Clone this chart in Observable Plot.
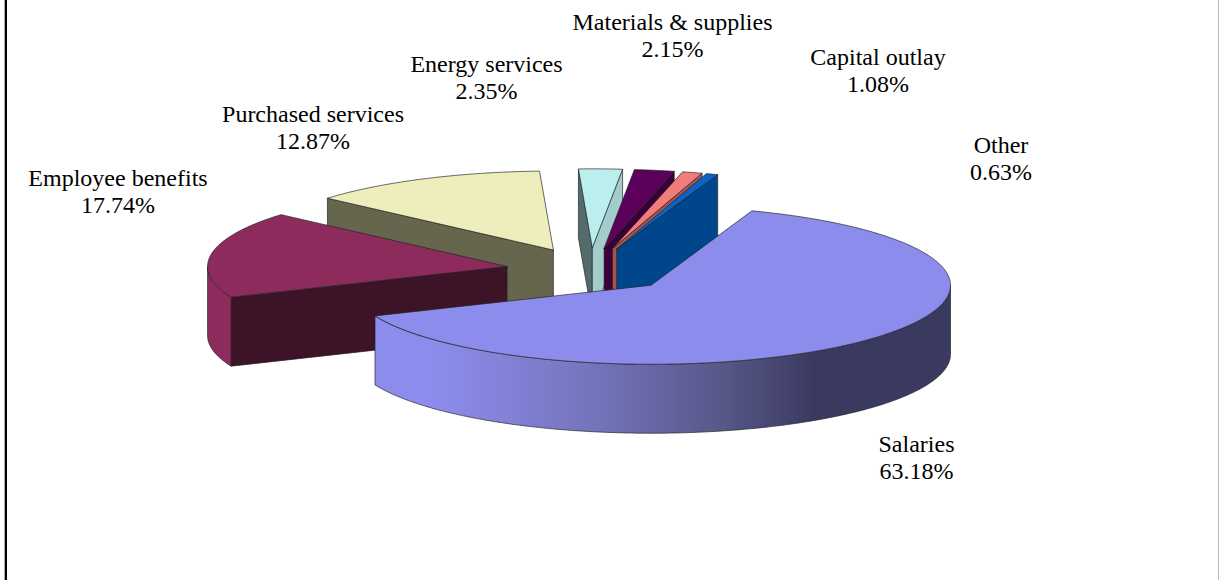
<!DOCTYPE html>
<html>
<head>
<meta charset="utf-8">
<script src="https://cdn.jsdelivr.net/npm/d3@7"></script>
<script src="https://cdn.jsdelivr.net/npm/@observablehq/plot@0.6"></script>
<style>
  html, body { margin: 0; padding: 0; background: #fff; }
  svg { display: block; }
</style>
</head>
<body>
<div id="chart"></div>
<script>
// Budget shares by expense category, in percent.
const categories = ["Salaries", "Employee benefits", "Purchased services", "Energy services",
                    "Materials & supplies", "Capital outlay", "Other"];
const shares = [63.18, 17.74, 12.87, 2.35, 2.15, 1.08, 0.63];

// Face colours per category.
const topColors  = ["#8C8CEC", "#8C2B5C", "#EEEEBD", "#BBEEEE", "#5C005C", "#F27B7B", "#0A64C8"];
const startWalls = ["#8C8CEC", "#3D1427", "#66664F", "#546B6B", "#3A003A", "#A8524F", "#00468C"];
const endWalls   = ["#8C8CEC", "#3D1427", "#66664F", "#A3CCCC", "#3A003A", "#A8524F", "#00468C"];
const rimColors  = ["url(#salaries-rim)", "#8C2B5C", "#EEEEBD", "#BBEEEE", "#5C005C", "#F27B7B", "#0A64C8"];

// Shading along the outer wall of the largest slice.
const rimOffsets = [0, 0.11, 0.38, 0.60, 0.764, 1];
const rimStops   = ["#8C8CEC", "#8C8CEC", "#7474BC", "#58588A", "#3A3A60", "#3A3A60"];

// Back-to-front painting order (indices into categories).
const drawOrder = [2, 3, 4, 5, 6, 1, 0];

// Label centres on the page, in category order.
const labelX = [916, 117.5, 312.5, 486, 672, 877.5, 1000.5];
const labelY = [456, 190.5, 126.5, 76.5, 34, 69.5, 157.5];

// Pie projection: centre, radii, wall height, slice separation, first slice edge.
const width = 1219, height = 580;
const pie = {cx: 589.5, cy: 269.5, rx: 299.5, ry: 79, depth: 69, explode: 84, startDeg: 70.3};

const rad = d => d * Math.PI / 180;
const total = d3.sum(shares);
const cumulative = d3.cumsum(shares);
const slices = shares.map((v, i) => {
  const t0 = pie.startDeg - (i ? cumulative[i - 1] : 0) / total * 360;
  const t1 = pie.startDeg - cumulative[i] / total * 360;
  const mid = rad((t0 + t1) / 2);
  return {
    i, t0, t1,
    ax: pie.cx + pie.explode * Math.cos(mid),
    ay: pie.cy - pie.explode * (pie.ry / pie.rx) * Math.sin(mid)
  };
});

const rimPoint = (s, deg, dz = 0) => ({
  x: s.ax + pie.rx * Math.cos(rad(deg)),
  y: s.ay - pie.ry * Math.sin(rad(deg)) + dz
});
const apex = (s, dz = 0) => ({x: s.ax, y: s.ay + dz});
const arc = (s, from, to, dz = 0) => {
  const n = Math.max(2, Math.ceil(Math.abs(to - from) * 2));
  return d3.range(n + 1).map(k => rimPoint(s, from + (to - from) * k / n, dz));
};
const closed = pts => [...pts, pts[0]];

// Front-facing stretches of the outer wall: the parts of the arc below the centre line.
const frontArcs = s => {
  const lo = s.t1, hi = s.t0, spans = [];
  for (const [a, b] of [[-180, 0], [180, 360], [-540, -360]]) {
    const from = Math.min(hi, b), to = Math.max(lo, a);
    if (from > to) spans.push([from, to]);
  }
  return spans;
};

const face = (pts, fill) => Plot.line(closed(pts), {
  x: "x", y: "y", fill, stroke: "#222", strokeWidth: 0.8, strokeOpacity: 0.85,
  strokeLinejoin: "round", curve: "linear"
});

const sliceMarks = s => {
  const marks = [];
  // Radial walls show only when they turn towards the viewer.
  if (Math.cos(rad(s.t0)) < 0) {
    marks.push(face([apex(s), rimPoint(s, s.t0), rimPoint(s, s.t0, pie.depth), apex(s, pie.depth)], startWalls[s.i]));
  }
  if (Math.cos(rad(s.t1)) > 0) {
    marks.push(face([apex(s), rimPoint(s, s.t1), rimPoint(s, s.t1, pie.depth), apex(s, pie.depth)], endWalls[s.i]));
  }
  for (const [from, to] of frontArcs(s)) {
    marks.push(face([...arc(s, from, to), ...arc(s, to, from, pie.depth)], rimColors[s.i]));
  }
  marks.push(face([apex(s), ...arc(s, s.t0, s.t1)], topColors[s.i]));
  return marks;
};

const rimGradient = () => {
  const defs = d3.create("svg:defs");
  const g = defs.append("linearGradient").attr("id", "salaries-rim");
  rimOffsets.forEach((o, k) => g.append("stop").attr("offset", o).attr("stop-color", rimStops[k]));
  return defs.node();
};

const labels = categories.map((c, i) => ({
  text: `${c}\n${shares[i].toFixed(2)}%`, x: labelX[i], y: labelY[i]
}));

const chart = Plot.plot({
  width, height,
  margin: 0,
  x: {domain: [0, width], range: [0, width], axis: null},
  y: {domain: [0, height], range: [0, height], axis: null},
  marks: [
    rimGradient,
    // Page border.
    Plot.ruleX([4], {stroke: "#aaa", strokeWidth: 1}),
    Plot.ruleX([5.5], {stroke: "#000", strokeWidth: 2}),
    Plot.ruleX([1218], {stroke: "#bbb", strokeWidth: 1}),
    ...drawOrder.flatMap(i => sliceMarks(slices[i])),
    Plot.text(labels, {
      x: "x", y: "y", text: "text",
      fontFamily: "Liberation Serif", fontSize: 24, lineHeight: 1.14, fill: "#000"
    })
  ]
});
document.getElementById("chart").append(chart);
</script>
</body>
</html>
